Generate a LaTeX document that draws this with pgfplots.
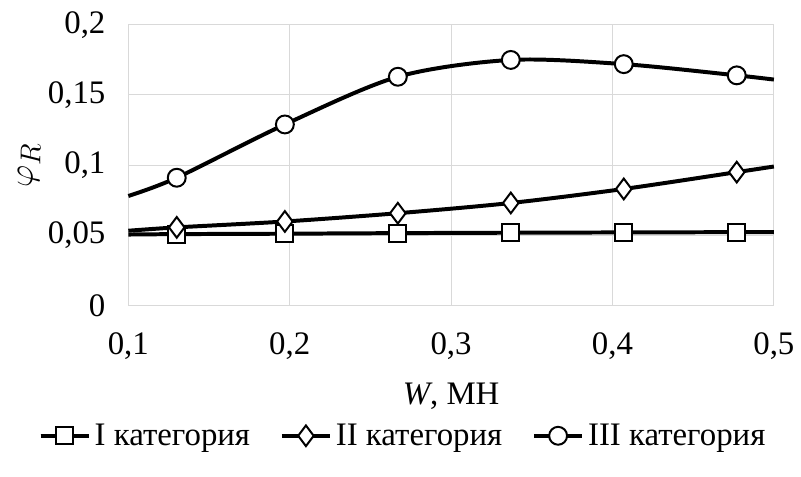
\documentclass[border=0pt]{standalone}
\usepackage{fontspec}
\setmainfont{Liberation Serif}
\usepackage{pgfplots}
\pgfplotsset{compat=1.18}
\definecolor{gridgray}{RGB}{217,217,217}
\begin{document}
\begin{tikzpicture}
\begin{axis}[
  width=324.5pt, height=141pt, scale only axis,
  xmin=0.1, xmax=0.5, ymin=0, ymax=0.2,
  xtick={0.1,0.2,0.3,0.4,0.5}, ytick={0,0.05,0.1,0.15,0.2},
  xticklabels={0{,}1,0{,}2,0{,}3,0{,}4,0{,}5},
  yticklabels={0,0{,}05,0{,}1,0{,}15,0{,}2},
  axis line style={gridgray},
  major grid style={gridgray, line width=0.5pt},
  grid=major, tick style={draw=none},
  font=\fontsize{16.5}{19}\selectfont,
  xticklabel style={yshift=-10pt},
  yticklabel style={xshift=-8pt},
  xlabel={\textit{W}, МН},
  xlabel style={yshift=-5pt},
  ylabel={\fontsize{19}{21}\selectfont$\varphi_R$},
  ylabel style={yshift=-3pt},
  clip=false,
  legend columns=3,
  legend style={draw=none, at={(0.427,-0.465)}, anchor=center,
    font=\fontsize{16.5}{19}\selectfont,
    /tikz/every even column/.append style={column sep=13pt}},
  legend image code/.code={
    \draw[mark=none] (0cm,0cm) -- (0.85cm,0cm);
    \path plot coordinates {(0cm,0cm) (0.425cm,0cm)};},
]
\addplot[black, line width=2pt, smooth, tension=0.5, mark=square*, mark size=4.3pt,
  mark options={fill=white, line width=1pt, solid}, mark indices={2,3,4,5,6,7}] coordinates {
  (0.1,0.0505) (0.13,0.0508) (0.197,0.0511) (0.267,0.0515) (0.337,0.0518) (0.407,0.0520) (0.477,0.0522) (0.5,0.0523)};
\addplot[black, line width=2pt, smooth, tension=0.5, mark=diamond*, mark size=5.2pt,
  mark options={fill=white, line width=1pt, solid}, mark indices={2,3,4,5,6,7}] coordinates {
  (0.1,0.0532) (0.13,0.0556) (0.197,0.0598) (0.267,0.0657) (0.337,0.0730) (0.407,0.0830) (0.477,0.0950) (0.5,0.0990)};
\addplot[black, line width=2pt, smooth, tension=0.5, mark=*, mark size=4.5pt,
  mark options={fill=white, line width=1pt, solid}, mark indices={2,3,4,5,6,7}] coordinates {
  (0.1,0.078) (0.13,0.091) (0.197,0.129) (0.267,0.163) (0.337,0.175) (0.407,0.172) (0.477,0.164) (0.5,0.161)};
\legend{I категория, II категория, III категория}
\path (rel axis cs:-0.1988,-0.6099) rectangle (rel axis cs:1.0354,1.0887);
\end{axis}
\end{tikzpicture}
\end{document}
